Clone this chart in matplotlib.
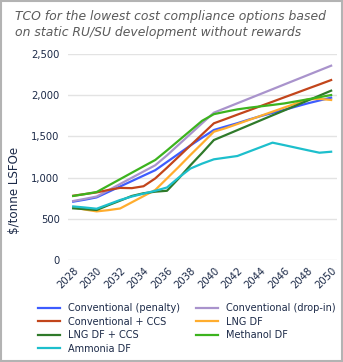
import matplotlib
matplotlib.use("Agg")
import matplotlib.pyplot as plt
from matplotlib.patches import Rectangle

years = list(range(2028, 2051))
conv_penalty = [708, 732, 760, 826, 892, 958, 1024, 1090, 1190, 1290, 1390, 1485, 1578,
                1620, 1660, 1705, 1747, 1785, 1822, 1862, 1901, 1936, 1970]
conv_dropin = [716, 742, 770, 846, 922, 998, 1074, 1150, 1270, 1400, 1530, 1660, 1788,
               1845, 1902, 1959, 2016, 2073, 2130, 2187, 2244, 2301, 2358]
conv_ccs = [780, 800, 820, 850, 875, 872, 895, 990, 1120, 1255, 1390, 1525, 1659,
            1711, 1764, 1816, 1869, 1921, 1974, 2026, 2079, 2131, 2184]
lng_df = [640, 612, 590, 605, 625, 700, 775, 850, 990, 1130, 1275, 1415, 1557,
          1600, 1650, 1700, 1750, 1800, 1850, 1900, 1950, 1955, 1942]
lng_df_ccs = [627, 617, 607, 665, 720, 777, 810, 829, 840, 990, 1150, 1300, 1456,
              1516, 1576, 1636, 1696, 1756, 1815, 1875, 1935, 1995, 2055]
methanol_df = [777, 800, 825, 903, 981, 1059, 1137, 1214, 1330, 1450, 1570, 1690, 1770,
               1800, 1828, 1848, 1865, 1882, 1900, 1925, 1950, 1976, 2002]
ammonia_df = [650, 637, 622, 675, 728, 770, 805, 840, 880, 1000, 1110, 1170, 1222,
              1242, 1262, 1316, 1370, 1424, 1394, 1363, 1332, 1302, 1314]

series = [
    ("Conventional (penalty)", conv_penalty, "#3d5cff"),
    ("Conventional (drop-in)", conv_dropin, "#a993cc"),
    ("Conventional + CCS", conv_ccs, "#c2451b"),
    ("LNG DF", lng_df, "#ffad2e"),
    ("LNG DF + CCS", lng_df_ccs, "#2f7a2a"),
    ("Methanol DF", methanol_df, "#3cb31e"),
    ("Ammonia DF", ammonia_df, "#1dbfcc"),
]

xticks = list(range(2028, 2051, 2))
yticks = [0, 500, 1000, 1500, 2000, 2500]
title = "TCO for the lowest cost compliance options based\non static RU/SU development without rewards"
ylabel = "$/tonne LSFOe"

plt.rcParams['font.family'] = ['DejaVu Sans']
txt = "#1c2a48"

fig = plt.figure(figsize=(3.43, 3.62), dpi=100)
ax = fig.add_axes([0.198, 0.2818, 0.7845, 0.569])

handles = []
for name, vals, col in series:
    h, = ax.plot(years, vals, color=col, lw=1.6, label=name, clip_on=False)
    handles.append(h)

ax.set_xlim(2027.55, 2050.5)
ax.set_ylim(0, 2500)
ax.set_yticks(yticks)
ax.set_yticklabels([f"{v:,}" for v in yticks], fontsize=7.2, color=txt)
ax.set_xticks(xticks)
ax.set_xticklabels([str(v) for v in xticks], rotation=45, ha="right",
                   rotation_mode="anchor", fontsize=7.2, color=txt)
ax.tick_params(length=0, pad=6)
ax.tick_params(axis="x", pad=4)
ax.grid(axis="y", color="#e3e3e3", lw=1)
ax.set_axisbelow(True)
for s in ax.spines.values():
    s.set_visible(False)
ax.set_ylabel(ylabel, fontsize=8.6, color=txt)
ax.yaxis.set_label_coords(-0.175, 0.34)

fig.text(0.045, 0.972, title, ha="left", va="top", fontsize=8.9, style="italic",
         color="#5a5a5a", linespacing=1.25)

# row-wise legend order (matplotlib fills columns first)
order = [0, 2, 4, 6, 1, 3, 5]
leg = fig.legend([handles[i] for i in order], [series[i][0] for i in order],
                 loc="upper left", bbox_to_anchor=(0.111, 0.162), ncol=2,
                 frameon=False, fontsize=7.0, handlelength=2.25, handletextpad=0.8,
                 columnspacing=1.7, labelspacing=0.36, borderaxespad=0, borderpad=0)
for t in leg.get_texts():
    t.set_color(txt)

fig.patches.append(Rectangle((0.002, 0.002), 0.994, 0.994, transform=fig.transFigure,
                             fill=False, edgecolor="#b3b3b3", lw=1.5))

fig.savefig("out.png", dpi=100)
